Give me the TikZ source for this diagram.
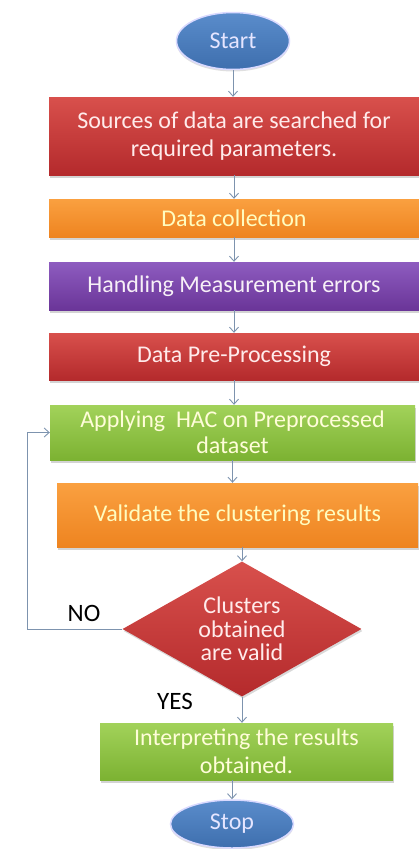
\documentclass[tikz,border=0pt]{standalone}
\usepackage{fontspec}
\setmainfont{Carlito}
\usetikzlibrary{shapes.geometric,arrows.meta,shadows}
\definecolor{redT}{HTML}{D8504C}
\definecolor{redB}{HTML}{B42A2C}
\definecolor{orgT}{HTML}{FAA040}
\definecolor{orgB}{HTML}{EE8420}
\definecolor{purT}{HTML}{8E5CC0}
\definecolor{purB}{HTML}{6A3598}
\definecolor{grnT}{HTML}{A2D25A}
\definecolor{grnB}{HTML}{7CB232}
\definecolor{bluT}{HTML}{5A8CCB}
\definecolor{bluB}{HTML}{3E6FAE}
\definecolor{arr}{HTML}{7D93AE}
\tikzset{
  x=1pt, y=-1pt,
  procbox/.style={rectangle, minimum width=#1, inner sep=0pt, align=center,
    font=\fontsize{24}{28}\selectfont,
    drop shadow={shadow xshift=1pt, shadow yshift=-2.5pt, opacity=0.35}},
  redbox/.style={procbox=#1, top color=redT, bottom color=redB, text=red!8!white},
  orgbox/.style={procbox=#1, top color=orgT, bottom color=orgB, text=yellow!25!white},
  purbox/.style={procbox=#1, top color=purT, bottom color=purB, text=violet!6!white},
  grnbox/.style={procbox=#1, top color=grnT, bottom color=grnB, text=yellow!15!white},
  term/.style={ellipse, inner sep=0pt, top color=bluT, bottom color=bluB,
    draw=white!85!blue, line width=1.5pt, text=white!90!blue,
    font=\fontsize{24}{28}\selectfont,
    drop shadow={shadow xshift=0pt, shadow yshift=-2pt, opacity=0.25}},
  flow/.style={draw=arr, line width=0.9pt, -{Straight Barb[length=5pt,width=9pt]}},
  lbl/.style={font=\fontsize{25}{28}\selectfont, text=black}
}
\begin{document}
\begin{tikzpicture}
\useasboundingbox (0,0) rectangle (419,849);
\node[term, minimum width=113pt, minimum height=57pt] (start) at (233,41) {Start};
\node[redbox=370pt, minimum height=78pt] (src) at (234,136) {Sources of data are searched for\\required parameters.};
\node[orgbox=370pt, minimum height=38pt] (coll) at (234,218) {Data collection};
\node[purbox=370pt, minimum height=48pt] (meas) at (234,286) {Handling Measurement errors};
\node[redbox=370pt, minimum height=47pt] (pre) at (234,356.5) {Data Pre-Processing};
\node[grnbox=365pt, minimum height=55pt, font=\fontsize{24}{26}\selectfont] (hac) at (232.5,432.5) {Applying\ \ HAC on Preprocessed\\dataset};
\node[orgbox=361pt, minimum height=64pt] (val) at (237.5,515) {Validate the clustering results};
\node[diamond, aspect=1.77, minimum width=239pt, minimum height=135pt, inner sep=0pt,
  top color=redT, bottom color=redB, text=red!8!white, align=center,
  font=\fontsize{24}{23.5}\selectfont,
  drop shadow={shadow xshift=1pt, shadow yshift=-2pt, opacity=0.3}] (dia) at (242,629) {Clusters\\obtained\\are valid};
\node[grnbox=293pt, minimum height=57pt] (interp) at (246.5,751.5) {Interpreting the results\\obtained.};
\node[term, minimum width=123pt, minimum height=48pt] (stop) at (232,824) {Stop};
\node[lbl] (no) at (84,613) {NO};
\node[lbl] (yes) at (175,701) {YES};
\coordinate (loopx) at (27,0);
\draw[flow] (start.south) -- (start.south |- src.north);
\draw[flow] (src.south) -- (coll.north);
\draw[flow] (coll.south) -- (meas.north);
\draw[flow] (meas.south) -- (pre.north);
\draw[flow] (pre.south) -- (pre.south |- hac.north);
\draw[flow] (hac.south) -- (hac.south |- val.north);
\draw[flow] (val.south -| dia.north) -- (dia.north);
\draw[flow] (dia.south) -- (dia.south |- interp.north);
\draw[flow] (stop.north |- interp.south) -- (stop.north);
\draw[flow] (dia.west) -- (dia.west -| loopx) |- (hac.west);
\end{tikzpicture}
\end{document}
